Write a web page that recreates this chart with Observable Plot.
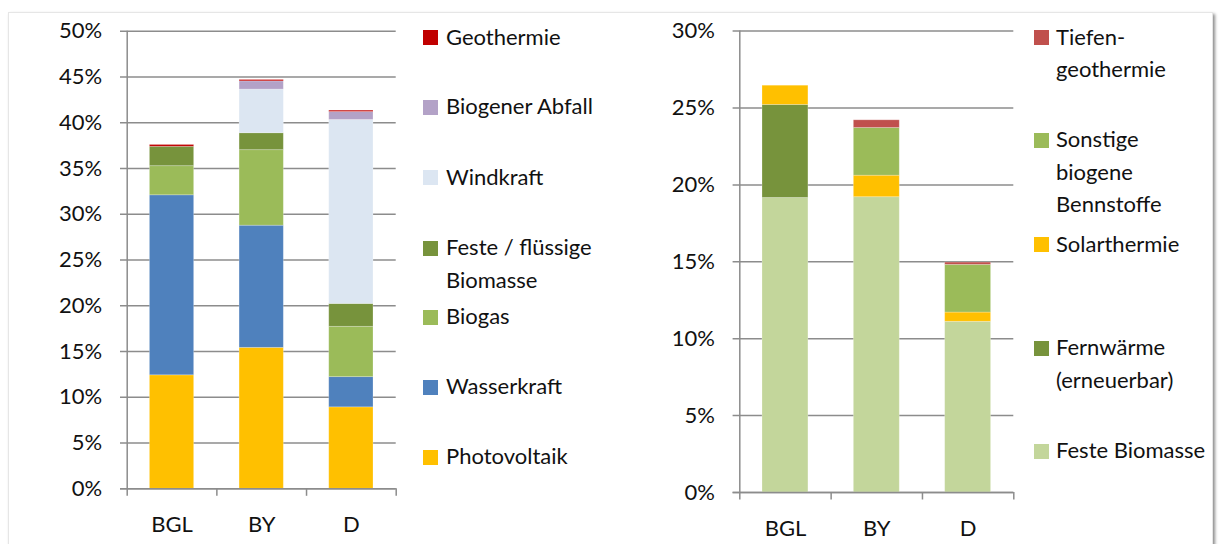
<!DOCTYPE html>
<html>
<head>
<meta charset="utf-8">
<script src="https://cdn.jsdelivr.net/npm/d3@7"></script>
<script src="https://cdn.jsdelivr.net/npm/@observablehq/plot@0.6"></script>
<style>
  html, body { margin: 0; padding: 0; background: #fff; }
  body { width: 1220px; height: 544px; position: relative; overflow: hidden; font-family: Lato, "Open Sans", sans-serif; color: #111; }
  #frame { position: absolute; left: 8px; top: 12px; width: 1203px; height: 560px; border: 1px solid #e6e6e6; box-shadow: 2px 2px 3px rgba(0,0,0,0.45); background: #fff; }
  .chart { position: absolute; top: 0; }
  .sw { position: absolute; width: 15px; height: 15px; }
  .lt { position: absolute; font-size: 22px; line-height: 32.5px; white-space: nowrap; color: #111; }
</style>
</head>
<body>
<div id="frame"></div>
<div id="left" class="chart" style="left:0px"></div>
<div id="right" class="chart" style="left:600px"></div>
<div id="legends"></div>
<script>
// ---------- data ----------
const categories = ["BGL", "BY", "D"];

// left chart: Strom (stacking order bottom -> top)
const stromSeries = ["Photovoltaik", "Wasserkraft", "Biogas", "Feste / flüssige Biomasse", "Windkraft", "Biogener Abfall", "Geothermie"];
const photovoltaik = [12.4, 15.4, 8.9];
const wasserkraft = [19.67, 13.35, 3.3];
const biogas = [3.18, 8.25, 5.5];
const festeFluessigeBiomasse = [2.12, 1.85, 2.5];
const windkraft = [0, 4.77, 20.1];
const biogenerAbfall = [0, 0.9, 0.87];
const geothermie = [0.2, 0.15, 0.15];
const stromColors = ["#FFC000", "#4F81BD", "#9BBB59", "#77933C", "#DCE6F2", "#B3A2C7", "#C00000"];
const stromTicks = [0, 5, 10, 15, 20, 25, 30, 35, 40, 45, 50];

// right chart: Wärme (stacking order bottom -> top)
const waermeSeries = ["Feste Biomasse", "Fernwärme (erneuerbar)", "Solarthermie", "Sonstige biogene Bennstoffe", "Tiefengeothermie"];
const festeBiomasse = [19.15, 19.2, 11.1];
const fernwaerme = [6.05, 0, 0];
const solarthermie = [1.25, 1.4, 0.6];
const sonstigeBiogene = [0, 3.1, 3.1];
const tiefengeothermie = [0, 0.5, 0.15];
const waermeColors = ["#C3D69B", "#77933C", "#FFC000", "#9BBB59", "#C0504D"];
const waermeTicks = [0, 5, 10, 15, 20, 25, 30];

// legend labels (top -> bottom), lines split as in the original
const stromLegend = [["Geothermie"], ["Biogener Abfall"], ["Windkraft"], ["Feste / flüssige", "Biomasse"], ["Biogas"], ["Wasserkraft"], ["Photovoltaik"]];
const stromLegendColors = ["#C00000", "#B3A2C7", "#DCE6F2", "#77933C", "#9BBB59", "#4F81BD", "#FFC000"];
const waermeLegend = [["Tiefen-", "geothermie"], ["Sonstige", "biogene", "Bennstoffe"], ["Solarthermie"], ["Fernwärme", "(erneuerbar)"], ["Feste Biomasse"]];
const waermeLegendColors = ["#C0504D", "#9BBB59", "#FFC000", "#77933C", "#C3D69B"];

// ---------- drawing ----------
const GRID = "#8c8c8c";

function makeChart({series, values, colors, ticks, marginLeft, marginRight, marginTop, marginBottom}) {
  const data = [];
  series.forEach((s, si) => values[si].forEach((v, ci) => { if (v > 0) data.push({series: s, i: ci, value: v}); }));
  const yMax = ticks[ticks.length - 1];
  return Plot.plot({
    width: 420, height: 544,
    marginLeft, marginRight, marginTop, marginBottom,
    x: {type: "linear", domain: [0, categories.length], axis: null, label: null},
    y: {domain: [0, yMax], axis: null, label: null},
    color: {domain: series, range: colors},
    style: {fontFamily: "Lato, 'Open Sans', sans-serif", fontSize: "22px", color: "#111", background: "transparent", overflow: "visible"},
    marks: [
      Plot.ruleY(ticks, {stroke: GRID, strokeWidth: 1.5, insetLeft: -6.7}),
      Plot.axisY(ticks, {tickSize: 0, tickPadding: 25, tickFormat: d => d + "%", label: null}),
      Plot.rectY(data, {x1: "i", x2: d => d.i + 1, y: "value", fill: "series", insetLeft: 22.7, insetRight: 22.7, stroke: "white", strokeOpacity: 0.3, strokeWidth: 0.8}),
      Plot.ruleX([0], {y1: 0, y2: yMax, stroke: GRID, strokeWidth: 1.5}),
      Plot.ruleY([0], {stroke: GRID, strokeWidth: 1.5, insetLeft: -6.7}),
      Plot.axisX(d3.range(categories.length + 1), {tickSize: 7.5, tickFormat: () => "", stroke: GRID, strokeWidth: 1.5, label: null}),
      Plot.text(categories, {x: (d, i) => i + 0.5, y: () => 0, dy: 36.5, fill: "#111"})
    ]
  });
}

document.getElementById("left").append(makeChart({
  series: stromSeries,
  values: [photovoltaik, wasserkraft, biogas, festeFluessigeBiomasse, windkraft, biogenerAbfall, geothermie],
  colors: stromColors, ticks: stromTicks,
  marginLeft: 126.7, marginRight: 24.3, marginTop: 30.7, marginBottom: 55.7
}));

document.getElementById("right").append(makeChart({
  series: waermeSeries,
  values: [festeBiomasse, fernwaerme, solarthermie, sonstigeBiogene, tiefengeothermie],
  colors: waermeColors, ticks: waermeTicks,
  marginLeft: 139.3, marginRight: 6.7, marginTop: 30.6, marginBottom: 52
}));

// legends (layout)
function legend(items, colors, swX, textX, centers) {
  const root = document.getElementById("legends");
  items.forEach((lines, k) => {
    const cy = centers[k];
    const sw = document.createElement("div");
    sw.className = "sw";
    sw.style.left = swX + "px";
    sw.style.top = (cy - 7.5) + "px";
    sw.style.background = colors[k];
    root.append(sw);
    const t = document.createElement("div");
    t.className = "lt";
    t.style.left = textX + "px";
    t.style.top = (cy - 16.9) + "px";
    t.innerHTML = lines.join("<br>");
    root.append(t);
  });
}
legend(stromLegend, stromLegendColors, 423, 446, [37.5, 107, 177.5, 248, 317, 387, 457]);
legend(waermeLegend, waermeLegendColors, 1034, 1056, [37.6, 140.2, 244.5, 348, 451.3]);
</script>
</body>
</html>
